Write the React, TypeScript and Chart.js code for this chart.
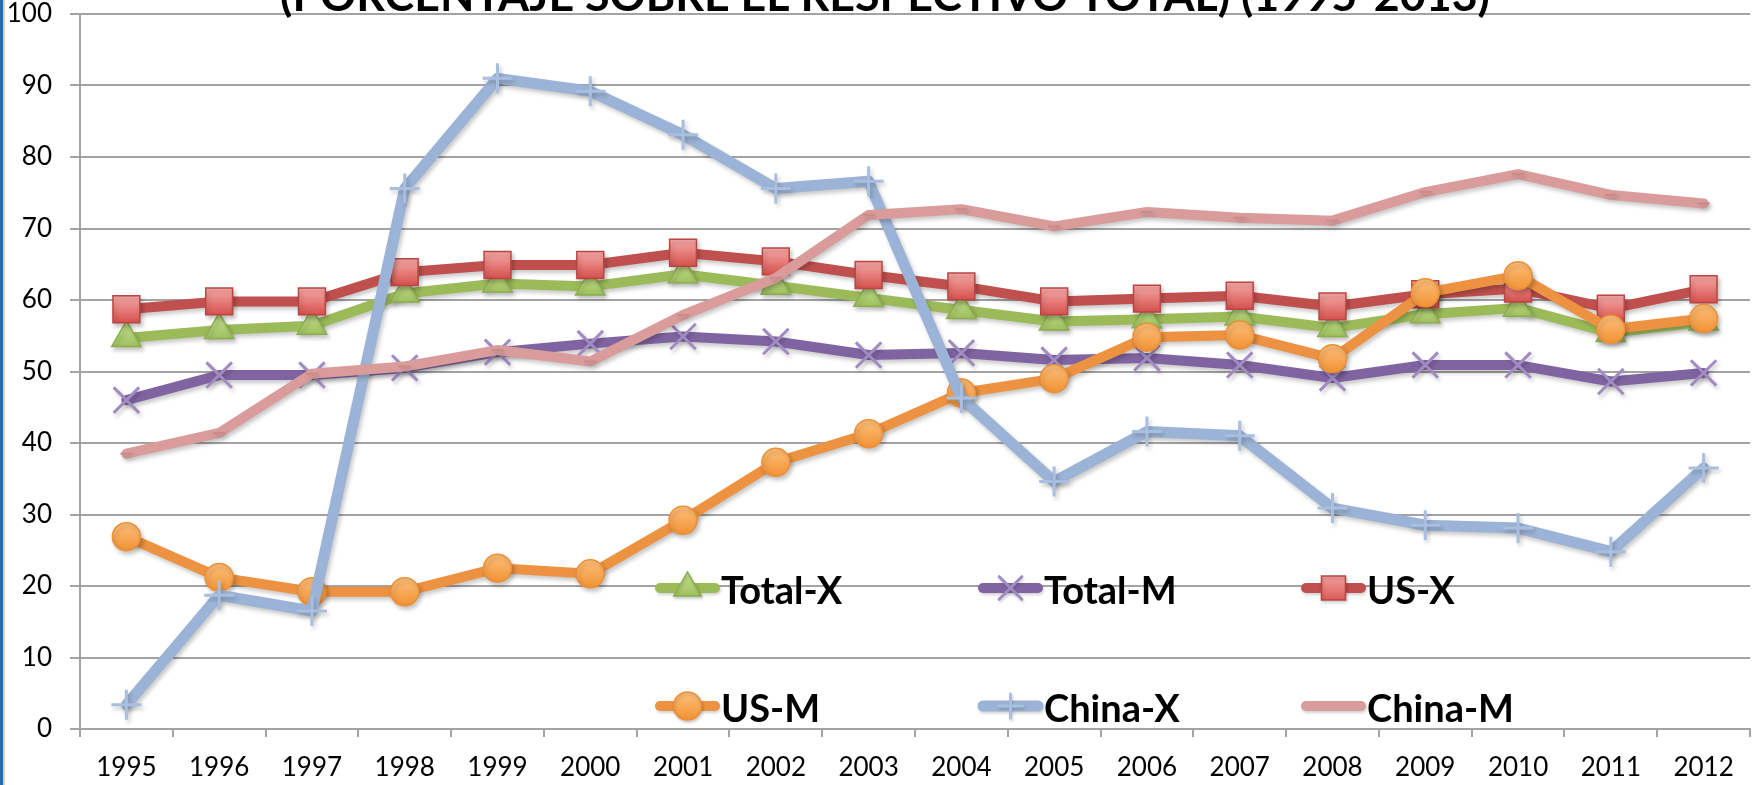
import React, { useEffect, useRef } from "react";
import { Chart, registerables } from "chart.js";
import { drawPoint } from "chart.js/helpers";

Chart.register(...registerables);

// ---- data ----
const years = [
  "1995", "1996", "1997", "1998", "1999", "2000", "2001", "2002", "2003",
  "2004", "2005", "2006", "2007", "2008", "2009", "2010", "2011", "2012",
];
const totalX = [54.7, 55.8, 56.4, 60.9, 62.3, 61.9, 63.6, 62.0, 60.3, 58.6, 57.0, 57.3, 57.7, 56.1, 58.0, 58.9, 55.4, 57.0];
const totalM = [46.0, 49.5, 49.5, 50.5, 52.7, 53.9, 54.9, 54.2, 52.3, 52.6, 51.6, 51.9, 50.9, 49.1, 50.9, 50.9, 48.6, 49.8];
const usX = [58.7, 59.8, 59.8, 63.9, 64.9, 64.9, 66.6, 65.4, 63.5, 61.9, 59.8, 60.2, 60.6, 59.1, 60.8, 61.6, 58.8, 61.5];
const usM = [26.9, 21.2, 19.2, 19.2, 22.5, 21.7, 29.2, 37.3, 41.3, 47.0, 49.0, 54.8, 55.1, 51.8, 61.0, 63.4, 55.9, 57.4];
const chinaX = [3.4, 18.7, 16.5, 75.6, 91.0, 89.2, 83.1, 75.6, 76.6, 46.3, 34.6, 41.6, 41.0, 30.9, 28.5, 28.1, 24.8, 36.5];
const chinaM = [38.5, 41.4, 49.7, 50.7, 53.0, 51.4, 57.9, 63.1, 71.9, 72.7, 70.3, 72.3, 71.5, 71.1, 75.1, 77.6, 74.7, 73.5];

const seriesLabels = ["Total-X", "Total-M", "US-X", "US-M", "China-X", "China-M"];
const titleText = "(PORCENTAJE SOBRE EL RESPECTIVO TOTAL) (1995-2013)";

const FONT = "Lato, 'Open Sans', sans-serif";
const GRID = "#a3a3a3";

// legend layout (columns / rows inside chart area)
const legendCols = [655, 978, 1301];
const legendRows = [588, 706];

// marker gradient colours [top, bottom]
const greenGrad = ["#c6e193", "#93b74f"];
const redGrad = ["#f6aaa8", "#d5504c"];
const orangeGrad = ["#fcc07c", "#f29234"];

const vGrad = (cols: string[], r: number) => (c: any) => {
  const chart = c.chart;
  const yScale = chart && chart.scales && chart.scales.y;
  const v = c.parsed ? c.parsed.y : c.raw;
  const y = yScale && typeof v === "number" ? yScale.getPixelForValue(v) : NaN;
  if (!isFinite(y)) return cols[1];
  const g = chart.ctx.createLinearGradient(0, y - r, 0, y + r);
  g.addColorStop(0, cols[0]);
  g.addColorStop(1, cols[1]);
  return g;
};

const shadowPlugin = {
  id: "shadow",
  beforeDatasetDraw(chart: any) {
    const c = chart.ctx;
    c.save();
    c.shadowColor = "rgba(0,0,0,0.22)";
    c.shadowBlur = 4;
    c.shadowOffsetX = 2;
    c.shadowOffsetY = 3;
  },
  afterDatasetDraw(chart: any) {
    chart.ctx.restore();
  },
};

const framePlugin = {
  id: "frame",
  beforeDraw(chart: any) {
    const c = chart.ctx;
    c.save();
    c.fillStyle = "#ffffff";
    c.fillRect(0, 0, chart.width, chart.height);
    c.fillStyle = "#1d6db4";
    c.fillRect(0, 0, 3, chart.height);
    c.fillStyle = "#d2d2d2";
    c.fillRect(3, 0, 2, chart.height);
    c.restore();
  },
};

const legendPlugin = {
  id: "customLegend",
  afterDatasetsDraw(chart: any) {
    const c = chart.ctx;
    const sets = chart.data.datasets;
    sets.forEach((ds: any, i: number) => {
      const x0 = legendCols[i % 3];
      const y = legendRows[Math.floor(i / 3)];
      c.save();
      c.shadowColor = "rgba(0,0,0,0.18)";
      c.shadowBlur = 3;
      c.shadowOffsetX = 1;
      c.shadowOffsetY = 2;
      c.strokeStyle = ds.borderColor;
      c.lineWidth = ds.borderWidth;
      c.lineCap = "round";
      c.beginPath();
      c.moveTo(x0 + 5, y);
      c.lineTo(x0 + 60, y);
      c.stroke();
      const r = ds.legendRadius;
      if (r > 0) {
        if (ds.grad) {
          const g = c.createLinearGradient(0, y - r, 0, y + r);
          g.addColorStop(0, ds.grad[0]);
          g.addColorStop(1, ds.grad[1]);
          c.fillStyle = g;
        } else {
          c.fillStyle = ds.pointBorderColor;
        }
        c.strokeStyle = ds.pointBorderColor;
        c.lineWidth = ds.pointBorderWidth;
        drawPoint(c, { pointStyle: ds.pointStyle, rotation: 0, radius: r, borderWidth: ds.pointBorderWidth }, x0 + 32.5, y);
      }
      c.restore();
      c.save();
      c.fillStyle = "#000";
      c.font = `bold 38px ${FONT}`;
      c.textAlign = "left";
      c.textBaseline = "middle";
      c.fillText(ds.label, x0 + 66, y + 4);
      c.restore();
    });
  },
};

const titlePlugin = {
  id: "clippedTitle",
  afterDraw(chart: any) {
    const c = chart.ctx;
    c.save();
    c.font = `bold 40px ${FONT}`;
    const w = c.measureText(titleText).width;
    const size = (40 * 1210) / w;
    c.font = `bold ${size}px ${FONT}`;
    c.fillStyle = "#000";
    c.textAlign = "center";
    c.textBaseline = "alphabetic";
    c.fillText(titleText, 885, 11);
    c.restore();
  },
};

export default function App() {
  const ref = useRef<HTMLCanvasElement>(null);

  useEffect(() => {
    document.body.style.margin = "0";
    const canvas = ref.current!;
    const chart = new Chart(canvas, {
      type: "line",
      data: {
        labels: years,
        datasets: [
          {
            label: seriesLabels[0],
            data: totalX,
            borderColor: "#9bbb59",
            borderWidth: 10,
            pointStyle: "triangle",
            pointRadius: 17,
            pointBackgroundColor: vGrad(greenGrad, 17),
            pointBorderColor: "#8dae4d",
            pointBorderWidth: 1.5,
            legendRadius: 16,
            grad: greenGrad,
            order: 6,
          } as any,
          {
            label: seriesLabels[1],
            data: totalM,
            borderColor: "#8064a2",
            borderWidth: 10,
            pointStyle: "crossRot",
            pointRadius: 18,
            pointBackgroundColor: "#9f8ac0",
            pointBorderColor: "#a08bc2",
            pointBorderWidth: 3,
            legendRadius: 16,
            order: 5,
          } as any,
          {
            label: seriesLabels[2],
            data: usX,
            borderColor: "#c0504d",
            borderWidth: 10,
            pointStyle: "rect",
            pointRadius: 19,
            pointBackgroundColor: vGrad(redGrad, 13.5),
            pointBorderColor: "#bb4542",
            pointBorderWidth: 1.5,
            legendRadius: 17,
            grad: redGrad,
            order: 4,
          } as any,
          {
            label: seriesLabels[3],
            data: usM,
            borderColor: "#ec9240",
            borderWidth: 10,
            pointStyle: "circle",
            pointRadius: 14,
            pointBackgroundColor: vGrad(orangeGrad, 14),
            pointBorderColor: "#ec9037",
            pointBorderWidth: 1.5,
            legendRadius: 14,
            grad: orangeGrad,
            order: 3,
          } as any,
          {
            label: seriesLabels[4],
            data: chinaX,
            borderColor: "#9bb3d6",
            borderWidth: 11,
            pointStyle: "cross",
            pointRadius: 15,
            pointBackgroundColor: "#a9bfe0",
            pointBorderColor: "#a9bfe0",
            pointBorderWidth: 3,
            legendRadius: 12,
            order: 2,
          } as any,
          {
            label: seriesLabels[5],
            data: chinaM,
            borderColor: "#d99c9b",
            borderWidth: 10,
            pointStyle: "line",
            pointRadius: 6,
            pointBackgroundColor: "#c98a89",
            pointBorderColor: "#c98a89",
            pointBorderWidth: 2,
            legendRadius: 0,
            order: 1,
          } as any,
        ],
      },
      options: {
        responsive: false,
        animation: false,
        events: [],
        layout: { autoPadding: false, padding: { top: 14, right: 11, left: 0, bottom: 0 } },
        elements: {
          line: { tension: 0, borderJoinStyle: "round", borderCapStyle: "round", fill: false },
        },
        plugins: {
          legend: { display: false },
          title: { display: false },
          tooltip: { enabled: false },
        },
        scales: {
          x: {
            type: "category",
            offset: true,
            afterFit: (s: any) => {
              s.height = 56;
              s.paddingLeft = 0;
              s.paddingRight = 0;
            },
            grid: {
              offset: true,
              drawOnChartArea: false,
              drawTicks: true,
              tickLength: 8,
              color: GRID,
              lineWidth: 2,
            },
            border: { color: GRID, width: 2 },
            ticks: {
              font: { family: FONT, size: 26 },
              color: "#000",
              padding: 15,
              maxRotation: 0,
              autoSkip: false,
            },
          },
          y: {
            min: 0,
            max: 100,
            afterFit: (s: any) => {
              s.width = 80;
              s.paddingTop = 0;
              s.paddingBottom = 0;
            },
            grid: { color: GRID, lineWidth: 2, tickLength: 10 },
            border: { color: GRID, width: 2 },
            ticks: {
              stepSize: 10,
              font: { family: FONT, size: 26 },
              color: "#000",
              padding: 18,
            },
          },
        },
      } as any,
      plugins: [framePlugin, shadowPlugin, legendPlugin, titlePlugin],
    });
    return () => chart.destroy();
  }, []);

  return (
    <div style={{ width: 1761, height: 785, overflow: "hidden" }}>
      <canvas ref={ref} width={1761} height={785} style={{ display: "block" }} />
    </div>
  );
}
